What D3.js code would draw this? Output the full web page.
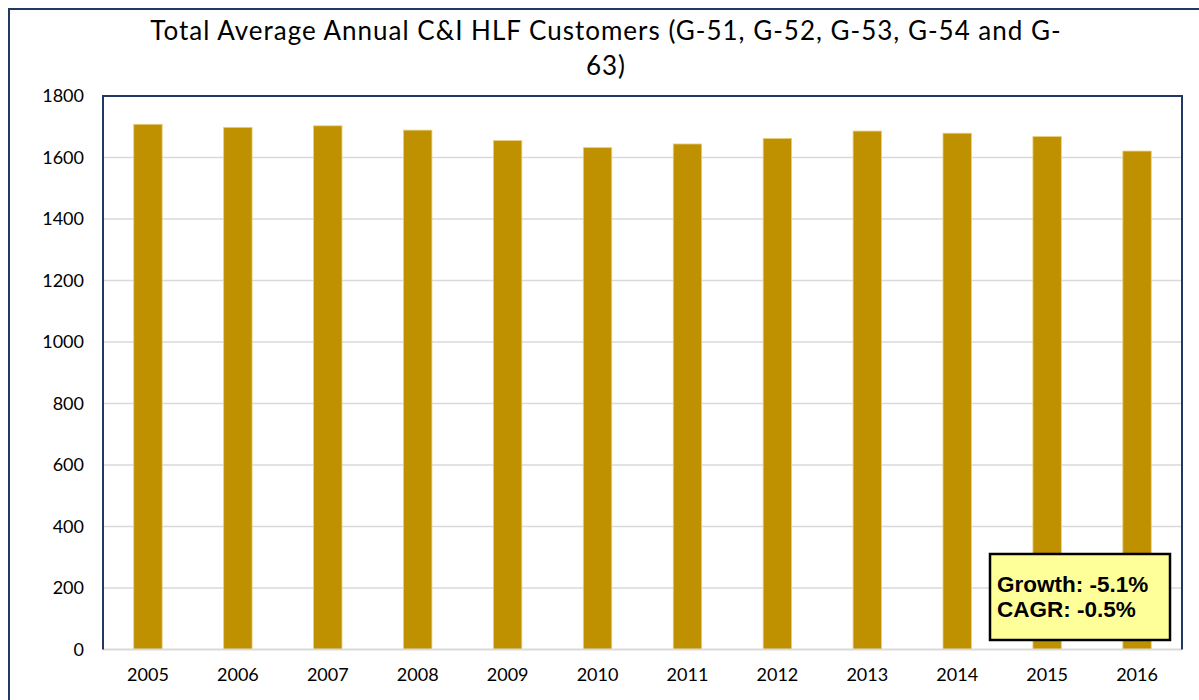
<!DOCTYPE html>
<html>
<head>
<meta charset="utf-8">
<script src="https://cdn.jsdelivr.net/npm/d3@7"></script>
<style>
  html, body { margin: 0; padding: 0; background: #ffffff; }
  svg { display: block; }
</style>
</head>
<body>
<svg id="chart" width="1199" height="700"></svg>
<script>
const years = ["2005","2006","2007","2008","2009","2010","2011","2012","2013","2014","2015","2016"];
const customers = [1708, 1698, 1703, 1689, 1655, 1632, 1644, 1662, 1686, 1679, 1668, 1621];
const yTicks = [0, 200, 400, 600, 800, 1000, 1200, 1400, 1600, 1800];
const titleLines = ["Total Average Annual C&I HLF Customers (G-51, G-52, G-53, G-54 and G-", "63)"];
const noteLines = ["Growth: -5.1%", "CAGR: -0.5%"];

const svg = d3.select("#chart");
const W = 1199, H = 700;
const plot = { left: 103, right: 1182, top: 96, bottom: 649.5 };
const navy = "#203864";
const font = "Lato, 'Open Sans', sans-serif";

// outer chart border
svg.append("rect")
  .attr("x", 9).attr("y", 9)
  .attr("width", W + 20).attr("height", H + 20)
  .attr("fill", "#ffffff")
  .attr("stroke", navy).attr("stroke-width", 2);

const x = d3.scaleBand()
  .domain(years)
  .range([plot.left, plot.right])
  .paddingInner(0.684)
  .paddingOuter(0.342);

const y = d3.scaleLinear()
  .domain([0, 1800])
  .range([plot.bottom, plot.top]);

// gridlines
svg.append("g")
  .selectAll("line")
  .data(yTicks.filter(d => d > 0 && d < 1800))
  .join("line")
  .attr("x1", plot.left).attr("x2", plot.right)
  .attr("y1", d => y(d)).attr("y2", d => y(d))
  .attr("stroke", "#d9d9d9").attr("stroke-width", 1.5);

// bars
svg.append("g")
  .selectAll("rect")
  .data(years.map((yr, i) => ({ yr, v: customers[i] })))
  .join("rect")
  .attr("x", d => x(d.yr))
  .attr("width", x.bandwidth())
  .attr("y", d => y(d.v))
  .attr("height", d => y(0) - y(d.v))
  .attr("fill", "#bf9000")
  .attr("stroke", "#e6cf80")
  .attr("stroke-width", 0.8);

// x axis line
svg.append("line")
  .attr("x1", plot.left).attr("x2", plot.right)
  .attr("y1", y(0)).attr("y2", y(0))
  .attr("stroke", "#d9d9d9").attr("stroke-width", 2);

// plot border (left, top, right)
svg.append("path")
  .attr("d", `M${plot.left},${plot.bottom} L${plot.left},${plot.top} L${plot.right},${plot.top} L${plot.right},${plot.bottom}`)
  .attr("fill", "none")
  .attr("stroke", navy).attr("stroke-width", 2);

// y axis labels
const yAxis = d3.axisLeft(y).tickValues(yTicks).tickSize(0).tickPadding(19).tickFormat(d3.format("d"));
const gy = svg.append("g").attr("transform", `translate(${plot.left},0)`).call(yAxis);
gy.select(".domain").remove();
gy.selectAll("text")
  .attr("font-family", font).attr("font-size", 18).attr("fill", "#000");

// x axis labels
const xAxis = d3.axisBottom(x).tickSize(0).tickPadding(19);
const gx = svg.append("g").attr("transform", `translate(0,${plot.bottom})`).call(xAxis);
gx.select(".domain").remove();
gx.selectAll("text")
  .attr("font-family", font).attr("font-size", 18).attr("fill", "#000");

// title
svg.append("g")
  .selectAll("text")
  .data(titleLines)
  .join("text")
  .attr("x", 606)
  .attr("y", (d, i) => 40 + i * 35)
  .attr("text-anchor", "middle")
  .attr("font-family", font)
  .attr("font-size", 26)
  .attr("letter-spacing", 1)
  .attr("fill", "#000")
  .text(d => d);

// annotation box
const note = svg.append("g");
note.append("rect")
  .attr("x", 990).attr("y", 554)
  .attr("width", 180).attr("height", 86)
  .attr("fill", "#ffff99")
  .attr("stroke", "#000").attr("stroke-width", 2.5);
note.selectAll("text")
  .data(noteLines)
  .join("text")
  .attr("x", 997)
  .attr("y", (d, i) => 592 + i * 25)
  .attr("font-family", "'Liberation Sans', Arial, sans-serif")
  .attr("font-weight", "bold")
  .attr("font-size", 22.5)
  .attr("fill", "#000")
  .text(d => d);
</script>
</body>
</html>
